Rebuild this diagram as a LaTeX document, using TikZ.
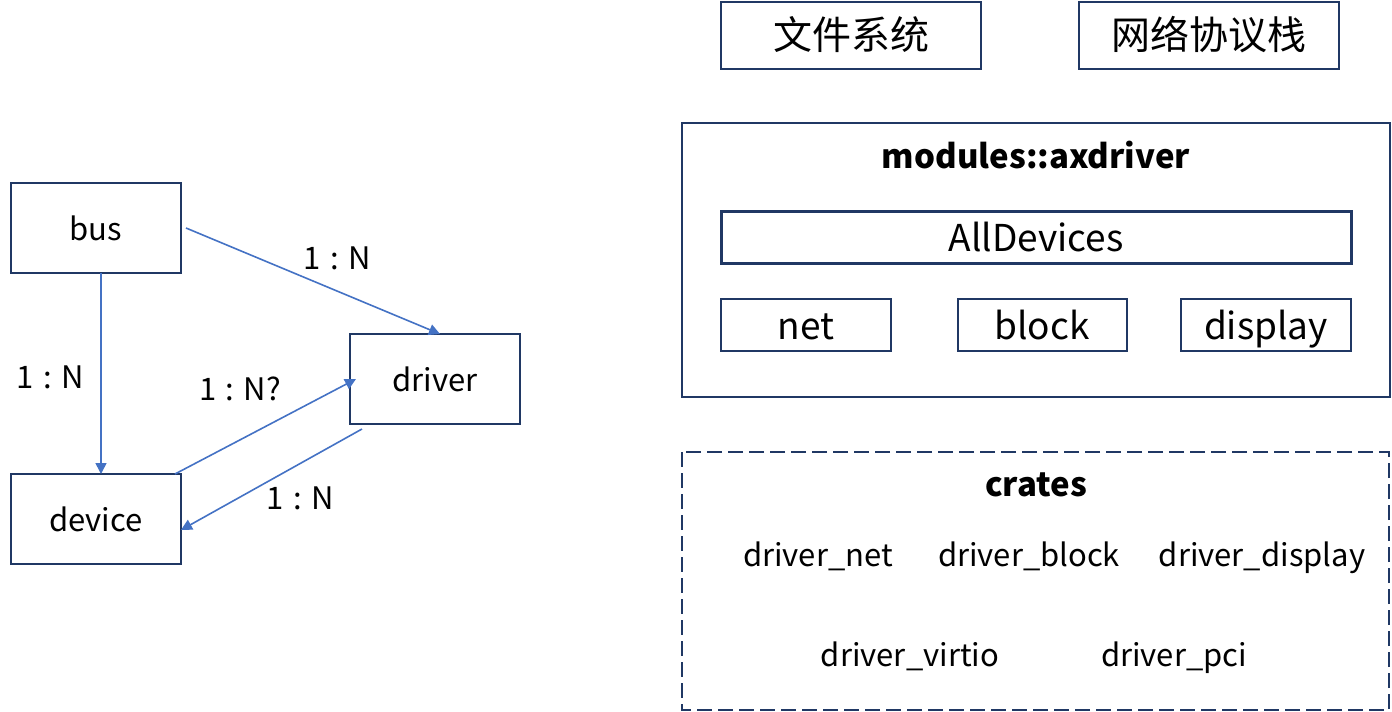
\documentclass[tikz,border=0pt]{standalone}
\usepackage{fontspec}
\setmainfont{Noto Sans CJK SC}
\usetikzlibrary{arrows.meta}
\definecolor{navy}{HTML}{203864}
\definecolor{arrowblue}{HTML}{4472C4}
\tikzset{
  box/.style={draw=navy, line width=2pt, inner sep=0pt},
  conn/.style={draw=arrowblue, line width=1.6pt, -{Triangle[length=11pt,width=11pt]}},
  lbl/.style={font=\fontsize{31}{36}\selectfont, inner sep=0pt, anchor=base},
  big/.style={font=\fontsize{37}{42}\selectfont, inner sep=0pt, anchor=base},
  cjk/.style={font=\fontsize{39}{44}\selectfont, inner sep=0pt},
  bld/.style={font=\fontsize{33}{38}\selectfont\bfseries, inner sep=0pt, anchor=base},
}
\newcommand{\ratio}[1]{1\hspace{0.3em}:\hspace{0.3em}#1}
\begin{document}
\begin{tikzpicture}[x=1pt,y=-1pt]
\useasboundingbox (0,0) rectangle (1392,712);
% left graph
\draw[box] (11,183) rectangle (181,273);
\node[lbl] (bus) at (96,240) {bus};
\coordinate (busB) at (101,273);
\coordinate (busR) at (186,228);
\draw[box] (350,334) rectangle (520,424);
\node[lbl] (driver) at (435,391) {driver};
\draw[box] (11,474) rectangle (181,564);
\node[lbl] (device) at (96,531) {device};
\coordinate (drvT) at (440,334);
\coordinate (drvL) at (356,379);
\coordinate (drvBL) at (362,429);
\coordinate (devT) at (101,474);
\coordinate (devTR) at (175,474);
\coordinate (devR) at (181,530);
\draw[conn] (busR) -- (drvT);
\draw[conn] (busB) -- (devT);
\draw[conn] (devTR) -- (drvL);
\draw[conn] (drvBL) -- (devR);
\node[lbl] (l1) at (337,269) {\ratio{N}};
\node[lbl] (l2) at (50,388) {\ratio{N}};
\node[lbl] (l3) at (240,400) {\ratio{N?}};
\node[lbl] (l4) at (300,509) {\ratio{N}};
% right side
\draw[box] (721,2) rectangle (981,69);
\node[cjk] (fs) at (851,35) {文件系统};
\draw[box] (1079,2) rectangle (1339,69);
\node[cjk] (net) at (1209,35) {网络协议栈};
\draw[box] (682,123) rectangle (1390,397);
\node[bld] (mod) at (1036,168) {modules::axdriver};
\draw[box, line width=3pt] (721,211) rectangle (1351,263);
\node[big] (all) at (1036,251) {AllDevices};
\draw[box] (721,299) rectangle (891,351);
\node[big] (n) at (806,339) {net};
\draw[box] (958,299) rectangle (1127,351);
\node[big] (b) at (1042,339) {block};
\draw[box] (1181,299) rectangle (1351,351);
\node[big] (d) at (1266,339) {display};
\draw[box, dash pattern=on 15pt off 6pt] (682,452) rectangle (1389,710);
\node[bld] (cr) at (1036,496) {crates};
\node[lbl] (dn) at (818,566) {driver\_net};
\node[lbl] (db) at (1029,566) {driver\_block};
\node[lbl] (dd) at (1262,566) {driver\_display};
\node[lbl] (dv) at (910,666) {driver\_virtio};
\node[lbl] (dp) at (1174,666) {driver\_pci};
\end{tikzpicture}
\end{document}
